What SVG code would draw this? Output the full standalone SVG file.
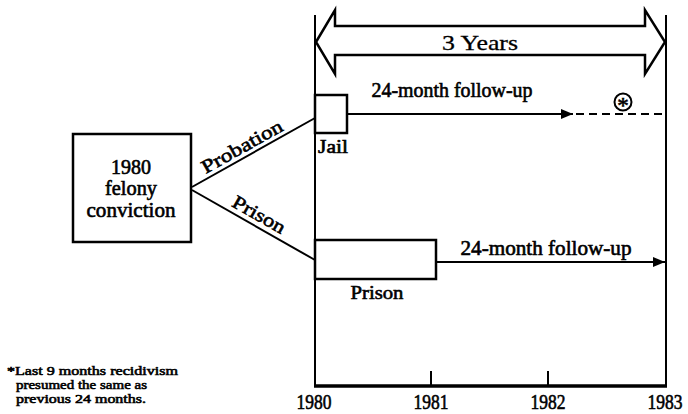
<svg xmlns="http://www.w3.org/2000/svg" width="688" height="414" viewBox="0 0 688 414">
<defs>
<style>
.t{font-weight:normal;fill:#000;stroke:#000;stroke-width:0.6}
.ln{stroke:#000;stroke-width:2;fill:none}
.bx{stroke:#000;stroke-width:2.5;fill:#fff}
</style>
<marker id="ah" viewBox="0 0 12 10" refX="12" refY="5" markerWidth="12" markerHeight="10" markerUnits="userSpaceOnUse" orient="auto">
<path d="M0,0 L12,5 L0,10 Z" fill="#000"/>
</marker>
</defs>
<rect width="688" height="414" fill="#fff"/>
<g font-family="'Liberation Serif', 'Times New Roman', serif">
<g id="timeline">
<line class="ln" x1="315" y1="15" x2="315" y2="387"/>
<line class="ln" x1="666" y1="15" x2="666" y2="387"/>
<line x1="314" y1="386" x2="667" y2="386" stroke="#000" stroke-width="3.5"/>
<line class="ln" x1="431" y1="371" x2="431" y2="386"/>
<line class="ln" x1="548" y1="371" x2="548" y2="386"/>
<text class="t" x="314" y="409" font-size="21" text-anchor="middle" textLength="35" lengthAdjust="spacingAndGlyphs">1980</text>
<text class="t" x="431" y="409" font-size="21" text-anchor="middle" textLength="35" lengthAdjust="spacingAndGlyphs">1981</text>
<text class="t" x="548" y="409" font-size="21" text-anchor="middle" textLength="35" lengthAdjust="spacingAndGlyphs">1982</text>
<text class="t" x="665" y="409" font-size="21" text-anchor="middle" textLength="35" lengthAdjust="spacingAndGlyphs">1983</text>
</g>

<g id="three-years">
<path d="M316,42 L335,10 L335,26 L645,26 L645,10 L665,42 L645,74 L645,55 L335,55 L335,74 Z" fill="#fff" stroke="#000" stroke-width="2.5" stroke-linejoin="miter"/>
<text x="480" y="50" font-size="22" text-anchor="middle" fill="#000" stroke="#000" stroke-width="0.3" textLength="76" lengthAdjust="spacingAndGlyphs">3 Years</text>
</g>

<g id="felony">
<rect class="bx" x="73" y="134" width="118" height="108"/>
<text class="t" x="131" y="174" font-size="20" text-anchor="middle" textLength="40" lengthAdjust="spacingAndGlyphs">1980</text>
<text class="t" x="131" y="195" font-size="20" text-anchor="middle" textLength="52" lengthAdjust="spacingAndGlyphs">felony</text>
<text class="t" x="131" y="217" font-size="20" text-anchor="middle" textLength="89" lengthAdjust="spacingAndGlyphs">conviction</text>
</g>

<g id="jail">
<rect class="bx" x="315" y="95" width="32" height="38"/>
<text class="t" x="333" y="153" font-size="19" text-anchor="middle" textLength="30" lengthAdjust="spacingAndGlyphs">Jail</text>
</g>

<g id="prison">
<rect class="bx" x="315" y="240" width="121" height="39"/>
<text class="t" x="377" y="299" font-size="19" text-anchor="middle" textLength="53" lengthAdjust="spacingAndGlyphs">Prison</text>
</g>

<g id="connectors">
<line class="ln" x1="192" y1="187" x2="315" y2="118"/>
<line class="ln" x1="192" y1="190" x2="315" y2="260"/>
<text class="t" font-size="19" text-anchor="middle" transform="translate(245,152) rotate(-29.3)" textLength="90" lengthAdjust="spacingAndGlyphs">Probation</text>
<text class="t" font-size="19" text-anchor="middle" transform="translate(256,220) rotate(29.6)" textLength="58" lengthAdjust="spacingAndGlyphs">Prison</text>
<line class="ln" x1="347" y1="114" x2="573" y2="114" marker-end="url(#ah)"/>
<line x1="576" y1="114" x2="666" y2="114" stroke="#000" stroke-width="2" stroke-dasharray="8,5"/>
<line class="ln" x1="436" y1="262" x2="665" y2="262" marker-end="url(#ah)"/>
<text class="t" x="452" y="97" font-size="20" text-anchor="middle" textLength="161" lengthAdjust="spacingAndGlyphs">24-month follow-up</text>
<text class="t" x="546" y="255" font-size="20" text-anchor="middle" textLength="171" lengthAdjust="spacingAndGlyphs">24-month follow-up</text>
<circle cx="623" cy="102" r="8.5" fill="none" stroke="#000" stroke-width="2"/>
<text class="t" x="623" y="113" font-size="23" text-anchor="middle">*</text>
</g>

<g id="footnote">
<text class="t" x="7" y="375" font-size="13" textLength="171" lengthAdjust="spacingAndGlyphs">*Last 9 months recidivism</text>
<text class="t" x="16" y="389" font-size="13" textLength="131" lengthAdjust="spacingAndGlyphs">presumed the same as</text>
<text class="t" x="16" y="403" font-size="13" textLength="130" lengthAdjust="spacingAndGlyphs">previous 24 months.</text>
</g>
</g>
</svg>
